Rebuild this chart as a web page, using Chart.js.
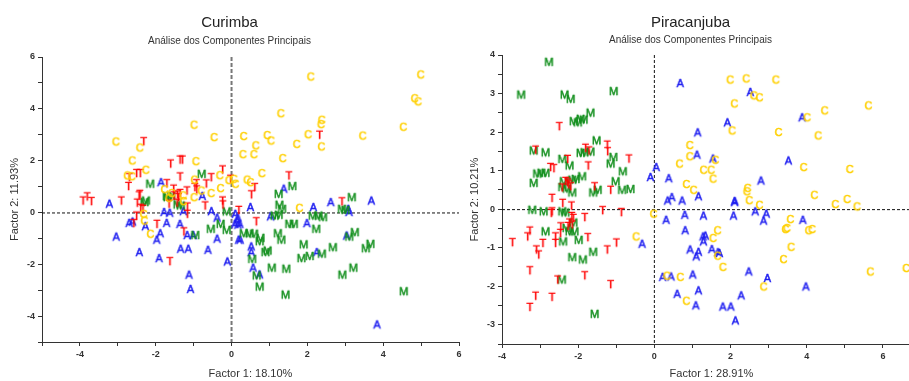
<!DOCTYPE html>
<html>
<head>
<meta charset="utf-8">
<script src="https://cdn.jsdelivr.net/npm/chart.js@4.4.1/dist/chart.umd.min.js"></script>
<style>
  html, body { margin: 0; padding: 0; background: #fff; }
  body { width: 909px; height: 381px; overflow: hidden; position: relative; }
  .panel { position: absolute; top: 0; height: 381px; }
  #leftPanel { left: 0; width: 466px; z-index: 2; }
  #rightPanel { left: 460px; width: 472px; z-index: 1; }
</style>
</head>
<body>
<div class="panel" id="leftPanel"><canvas id="curimba" width="466" height="381"></canvas></div>
<div class="panel" id="rightPanel"><canvas id="piracanjuba" width="472" height="381"></canvas></div>
<script>
// Curimba scores (Factor 1, Factor 2) by group
const curC = [[2.09,5.23],[4.99,5.31],[4.83,4.39],[4.92,4.27],[1.30,3.81],[-0.99,3.37],[2.38,3.56],[2.36,3.39],[4.53,3.29],[3.46,2.95],[2.02,3.00],[0.94,2.97],[1.04,2.76],[0.32,2.93],[-0.46,2.89],[-3.05,2.72],[-2.42,2.49],[0.64,2.57],[1.72,2.63],[2.37,2.53],[0.30,2.23],[0.59,2.23],[1.35,2.08],[-2.62,1.99],[-0.94,1.96],[0.80,1.50],[0.41,1.25],[0.50,1.15],[-0.31,1.42],[-0.07,1.23],[0.06,1.28],[0.10,1.09],[-0.98,1.25],[-2.26,1.63],[-2.75,1.41],[-2.63,1.38],[-1.77,0.88],[-0.80,0.83],[-0.54,0.73],[-0.29,0.92],[-1.58,0.73],[-1.65,0.55],[-1.28,0.64],[-1.27,0.42],[-0.99,0.57],[-2.32,-0.07],[-2.30,-0.33],[-2.14,-0.84],[1.79,0.16]];
const curT = [[2.32,2.98],[-2.32,2.73],[-1.61,1.87],[-1.36,2.02],[-1.30,2.02],[1.51,1.41],[-0.24,1.64],[-0.03,1.28],[-0.54,1.34],[-0.93,1.11],[-0.67,1.10],[-2.70,1.34],[-2.51,1.50],[-2.41,1.50],[-1.71,1.11],[-2.72,1.00],[-1.53,0.90],[-1.36,1.37],[-0.97,0.96],[-0.92,0.87],[-1.18,0.83],[-1.43,0.68],[-3.92,0.44],[-3.81,0.60],[-3.70,0.42],[-2.91,0.44],[-2.44,0.64],[-2.49,0.36],[-2.34,0.12],[-2.51,-0.14],[-2.58,-0.43],[-1.97,-0.46],[-1.26,-0.75],[-1.17,-0.07],[-1.63,-1.90],[-0.24,0.44],[-0.23,0.29],[-0.70,0.25],[-1.52,0.64],[-1.65,0.32],[-1.44,0.36],[-1.40,0.57],[-1.36,0.73],[-1.17,0.21],[-2.42,0.70],[-2.40,0.16],[0.61,0.96],[0.52,0.68],[0.19,0.08],[0.65,-0.36],[2.91,0.41]];
const curM = [[-0.79,1.47],[-2.15,1.09],[1.60,1.00],[-2.30,0.38],[-2.26,0.44],[-0.96,-0.89],[-0.55,-0.65],[-0.29,-0.46],[-0.13,-0.69],[-0.13,0.02],[-1.71,0.61],[-1.60,0.61],[-1.43,0.29],[-1.69,0.57],[-1.34,0.25],[1.24,0.70],[1.26,0.28],[1.33,0.12],[3.17,0.57],[2.91,0.12],[3.00,0.08],[2.14,-0.14],[2.29,-0.14],[2.41,-0.20],[1.13,-0.14],[1.24,-0.11],[1.52,-0.46],[1.64,-0.46],[2.23,-0.65],[3.10,-0.95],[3.25,-0.78],[3.54,-1.40],[3.66,-1.23],[2.67,-1.36],[1.90,-1.25],[1.84,-1.78],[2.06,-1.70],[2.38,-1.61],[3.21,-2.15],[2.92,-2.42],[1.06,-2.15],[1.44,-2.19],[1.42,-3.19],[0.74,-2.88],[0.66,-2.45],[0.54,-1.81],[0.89,-1.55],[0.95,-1.49],[0.32,-0.82],[0.47,-0.82],[0.59,-0.84],[0.76,-1.00],[0.74,-1.13],[1.22,-0.82],[1.31,-1.07],[4.54,-3.06]];
const curA = [[-1.86,1.15],[1.38,0.90],[-3.22,0.32],[-2.70,-0.42],[-2.61,-0.37],[-2.27,-0.55],[-3.04,-0.95],[-1.88,-0.82],[-1.97,-1.07],[-1.71,-0.42],[-1.78,0.00],[-1.63,-0.03],[-1.36,-0.46],[-1.27,0.03],[-2.43,-1.55],[-1.91,-1.78],[-1.34,-1.42],[-1.14,-1.42],[-0.62,-1.46],[-0.38,-1.03],[-1.12,-2.42],[-1.08,-2.97],[-0.11,-1.91],[-1.17,-0.89],[-1.01,-0.89],[-0.53,0.03],[-0.77,0.62],[-0.38,-0.22],[0.15,-0.33],[0.50,0.19],[2.16,0.19],[2.62,0.38],[3.69,0.44],[3.08,0.12],[3.10,0.00],[1.03,-0.17],[1.99,-0.43],[3.04,-0.91],[2.25,-1.55],[0.74,-2.41],[0.57,-2.15],[0.52,-1.55],[0.52,-1.33],[0.19,-1.07],[0.23,-1.07],[0.10,-0.07],[0.17,-0.22],[0.09,-0.46],[0.17,-0.49],[0.22,-0.46],[3.84,-4.34]];

// Piracanjuba scores (Factor 1, Factor 2) by group
const pirC = [[-0.02,-0.13],[-0.48,-0.72],[0.33,-1.74],[1.99,3.35],[2.41,3.38],[3.19,3.35],[2.61,2.94],[2.76,2.89],[2.10,2.73],[4.47,2.55],[5.62,2.68],[4.01,2.37],[2.04,2.03],[3.26,1.99],[4.30,1.90],[0.93,1.65],[0.93,1.36],[1.60,1.27],[3.92,1.08],[5.13,1.03],[0.66,1.17],[1.29,1.01],[1.49,1.01],[1.54,0.78],[0.84,0.64],[1.03,0.49],[2.45,0.54],[2.43,0.45],[2.49,0.22],[2.76,0.10],[4.20,0.36],[4.75,0.12],[5.06,0.25],[5.32,0.06],[3.57,-0.27],[3.44,-0.53],[3.48,-0.50],[4.05,-0.56],[4.14,-0.53],[1.66,-0.56],[1.54,-0.76],[1.66,-1.22],[1.80,-1.51],[3.59,-0.99],[3.39,-1.31],[5.67,-1.63],[6.61,-1.54],[2.87,-2.02],[0.68,-1.77],[0.84,-2.39]];
const pirT = [[-2.50,2.14],[-1.81,1.58],[-1.72,1.51],[-1.24,1.66],[-1.23,1.49],[-0.67,1.30],[-3.12,1.53],[-2.28,1.29],[-1.74,1.12],[-2.73,1.08],[-2.64,1.05],[-2.33,0.72],[-2.28,0.68],[-2.25,0.63],[-2.42,0.55],[-2.20,0.58],[-1.57,0.58],[-1.15,0.49],[-2.69,0.28],[-2.41,0.15],[-2.18,0.08],[-2.71,-0.11],[-2.69,-0.07],[-2.17,-0.19],[-2.13,-0.24],[-2.23,-0.36],[-2.16,-0.41],[-2.27,-0.45],[-2.46,-0.46],[-1.83,-0.22],[-1.36,-0.04],[-0.87,-0.09],[-3.27,-0.57],[-3.33,-0.72],[-3.73,-0.87],[-2.93,-0.89],[-3.10,-1.06],[-3.04,-1.19],[-2.60,-0.72],[-2.60,-0.89],[-2.47,-0.63],[-1.75,-0.74],[-1.00,-0.88],[-1.24,-1.06],[-3.27,-1.60],[-1.83,-1.73],[-1.15,-1.96],[-2.54,-1.84],[-3.12,-2.26],[-2.69,-2.29],[-3.27,-2.55]];
const pirM = [[-3.50,2.96],[-2.36,2.96],[-2.20,2.85],[-1.07,3.05],[-2.77,3.81],[-2.12,2.27],[-2.01,2.24],[-1.94,2.33],[-1.86,2.31],[-1.68,2.49],[-1.52,1.77],[-1.94,1.45],[-1.84,1.46],[-1.68,1.48],[-1.08,1.34],[-1.15,1.17],[-3.17,1.51],[-2.86,1.46],[-2.42,1.29],[-2.23,1.12],[-3.08,0.91],[-2.97,0.93],[-2.86,0.93],[-3.17,0.67],[-2.38,0.71],[-2.16,0.75],[-2.07,0.77],[-1.90,0.84],[-2.42,0.56],[-2.30,0.52],[-2.16,0.42],[-1.61,0.42],[-1.49,0.49],[-0.85,0.49],[-0.63,0.51],[-0.83,0.97],[-1.02,0.71],[-3.21,-0.03],[-2.91,-0.07],[-2.42,-0.07],[-2.34,-0.10],[-2.13,-0.36],[-2.86,-0.59],[-2.31,-0.50],[-2.23,-0.59],[-2.10,-0.59],[-2.40,-0.85],[-1.99,-0.81],[-1.61,-1.12],[-2.16,-1.26],[-1.88,-1.32],[-2.43,-1.84],[-1.57,-2.73]];
const pirA = [[0.35,0.21],[0.46,0.30],[0.31,-0.29],[-0.32,-0.91],[0.22,-1.77],[0.68,3.26],[2.52,3.03],[3.88,2.37],[1.92,2.24],[1.14,1.98],[1.12,1.40],[1.54,1.30],[3.52,1.25],[0.05,1.08],[-0.10,0.82],[0.38,0.79],[2.80,0.73],[1.16,0.32],[0.73,0.21],[2.11,0.17],[2.11,0.20],[0.80,-0.16],[1.29,-0.18],[2.08,-0.18],[2.65,-0.07],[2.94,-0.13],[2.87,-0.31],[3.90,-0.29],[0.81,-0.56],[1.28,-0.72],[1.34,-0.70],[1.29,-0.85],[0.94,-1.06],[1.16,-1.12],[1.10,-1.24],[1.51,-1.05],[1.67,-1.13],[1.71,-1.15],[2.48,-1.63],[2.97,-1.80],[3.98,-2.02],[1.01,-1.71],[0.44,-1.76],[0.60,-2.21],[1.16,-2.12],[1.09,-2.51],[1.80,-2.54],[2.01,-2.54],[2.28,-2.25],[2.13,-2.90]];

const groups = ['C', 'T', 'M', 'A'];
const groupColors = { C: '#ffd000', T: '#ff0000', M: '#138f1e', A: '#1f1ff0' };

const FONT = '"Liberation Sans", Arial, sans-serif';

// letter used as point marker
function letter(ch, color) {
  const c = document.createElement('canvas');
  c.width = 13;
  c.height = 13;
  const g = c.getContext('2d');
  g.font = '11px ' + FONT;
  g.fillStyle = color;
  g.strokeStyle = color;
  g.lineWidth = 0.5;
  g.textAlign = 'center';
  g.textBaseline = 'middle';
  g.fillText(ch, 6.5, 7);
  g.strokeText(ch, 6.5, 7);
  return c;
}

// dashed lines through the origin
const zeroLines = {
  id: 'zeroLines',
  beforeDatasetsDraw(chart, args, opts) {
    const { ctx, chartArea: a, scales: { x, y } } = chart;
    const px = x.getPixelForValue(0), py = y.getPixelForValue(0);
    ctx.save();
    ctx.strokeStyle = opts.vColor;
    ctx.lineWidth = opts.vWidth;
    ctx.setLineDash(opts.vDash);
    ctx.beginPath();
    ctx.moveTo(px, a.top);
    ctx.lineTo(px, a.bottom);
    ctx.stroke();
    ctx.strokeStyle = '#111';
    ctx.lineWidth = 1;
    ctx.setLineDash([3, 2]);
    ctx.beginPath();
    ctx.moveTo(a.left, py + 0.5);
    ctx.lineTo(a.right, py + 0.5);
    ctx.stroke();
    ctx.restore();
  }
};

function makeChart(id, o) {
  const datasets = groups.map((g, i) => ({
    label: g,
    data: o.data[i].map(p => ({ x: p[0], y: p[1] })),
    pointStyle: letter(g, groupColors[g]),
    pointRadius: 6
  }));
  const axis = (min, max, step, show, fit) => ({
    type: 'linear', min, max,
    border: { display: true, color: '#333', width: 1 },
    grid: { drawOnChartArea: false, drawTicks: true, tickLength: 4, tickColor: '#333' },
    ticks: {
      stepSize: step, autoSkip: false, maxRotation: 0, padding: 3,
      color: '#333', font: { family: FONT, size: 9, weight: 'bold' },
      callback: v => show(v) ? v : ''
    },
    afterFit: fit
  });
  const xAxis = axis(o.x[0], o.x[1], 1, v => v % 2 === 0, s => { s.height = o.bottom; });
  xAxis.title = { display: true, text: o.xTitle, color: '#333', font: { family: FONT, size: 11 }, padding: { top: 0, bottom: 0 } };
  const yAxis = axis(o.y[0], o.y[1], o.yStep, o.yShow, s => { s.width = 42; });
  yAxis.title = { display: true, text: o.yTitle, color: '#333', font: { family: FONT, size: 11 }, padding: { top: 8, bottom: 0 } };

  return new Chart(document.getElementById(id), {
    type: 'scatter',
    data: { datasets },
    options: {
      responsive: false,
      animation: false,
      layout: { padding: { left: 0, right: o.padRight, top: 0, bottom: 0 } },
      plugins: {
        legend: { display: false },
        tooltip: { enabled: false },
        title: { display: true, text: o.title, color: '#222', font: { family: FONT, size: 15, weight: 'normal' }, padding: { top: 14, bottom: o.titleGap } },
        subtitle: { display: true, text: 'Análise dos Componentes Principais', color: '#333', font: { family: FONT, size: 10 }, padding: { top: 0, bottom: o.subGap } },
        zeroLines: o.lines
      },
      scales: { x: xAxis, y: yAxis }
    },
    plugins: [zeroLines]
  });
}

makeChart('curimba', {
  title: 'Curimba',
  data: [curC, curT, curM, curA],
  x: [-5, 6], y: [-5, 6], yStep: 1, yShow: v => v % 2 === 0,
  xTitle: 'Factor 1: 18.10%', yTitle: 'Factor 2: 11.93%',
  padRight: 7, bottom: 39, titleGap: 3, subGap: 10,
  lines: { vColor: '#777', vWidth: 2, vDash: [4, 2] }
});

makeChart('piracanjuba', {
  title: 'Piracanjuba',
  data: [pirC, pirT, pirM, pirA],
  x: [-4, 7], y: [-3.5, 4], yStep: 0.5, yShow: v => Number.isInteger(v),
  xTitle: 'Factor 1: 28.91%', yTitle: 'Factor 2: 10.21%',
  padRight: 11, bottom: 37, titleGap: 2, subGap: 9,
  lines: { vColor: '#111', vWidth: 1, vDash: [3, 2] }
});
</script>
</body>
</html>
